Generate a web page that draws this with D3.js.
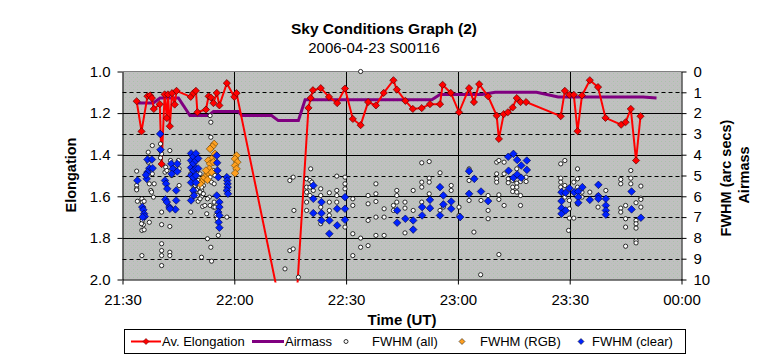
<!DOCTYPE html>
<html><head><meta charset="utf-8">
<script src="https://cdn.jsdelivr.net/npm/d3@7"></script>
<style>body{margin:0;background:#fff}svg{display:block;font-family:"Liberation Sans",Arial,sans-serif}</style>
</head><body><svg id="c" width="764" height="360"></svg>
<script>
// ---------------- data ----------------
const chartTitle = "Sky Conditions Graph (2)";
const chartSubtitle = "2006-04-23 S00116";
const startUT = "2006-04-23T21:30:00Z";          // time origin, values below are minutes after it
const timeTickLabels = ["21:30","22:00","22:30","23:00","23:30","00:00"];
const elongTicks = [1.0,1.2,1.4,1.6,1.8,2.0];
const fwhmTicks = [0,1,2,3,4,5,6,7,8,9,10];
const seriesNames = ["Av. Elongation","Airmass","FWHM (all)","FWHM (RGB)","FWHM (clear)"];

// [minutes after 21:30, average elongation]
const avElongation = [[3.8,1.143],[5.1,1.288],[6.7,1.119],[7.4,1.115],[7.9,1.128],[8.4,1.18],[10.0,1.157],[10.5,1.445],[11.3,1.11],[11.9,1.224],[12.2,1.11],[12.7,1.263],[13.3,1.104],[14.0,1.159],[14.5,1.093],[18.3,1.122],[19.0,1.104],[19.7,1.093],[20.1,1.196],[22.4,1.183],[23.1,1.119],[23.7,1.125],[24.4,1.152],[25.3,1.103],[26.0,1.163],[28.0,1.056],[30.0,1.122],[30.6,1.104],[45.6,2.41],[49.9,1.175],[50.5,1.128],[51.1,1.09],[53.2,1.08],[55.4,1.122],[57.6,1.152],[59.7,1.082],[61.8,1.228],[63.9,1.258],[65.9,1.147],[68.0,1.163],[70.1,1.103],[72.7,1.042],[73.6,1.087],[75.9,1.141],[77.9,1.18],[80.3,1.176],[82.5,1.157],[85.2,1.157],[85.9,1.064],[88.1,1.103],[90.3,1.196],[93.0,1.08],[94.3,1.147],[95.7,1.061],[98.1,1.119],[100.4,1.212],[101.0,1.324],[102.3,1.205],[103.4,1.196],[104.7,1.173],[105.8,1.128],[106.8,1.147],[108.3,1.147],[117.6,1.215],[118.7,1.093],[119.9,1.112],[121.1,1.112],[122.1,1.287],[123.3,1.115],[125.4,1.042],[127.6,1.075],[129.6,1.223],[133.8,1.256],[135.0,1.244],[136.4,1.18],[137.8,1.428],[139.0,1.215]];

// [minutes after 21:30, airmass]
const airmass = [[3.8,1.51],[8.3,1.51],[10.1,1.27],[15.0,1.27],[18.1,2.12],[23.0,2.12],[24.4,1.92],[31.1,1.92],[32.0,2.12],[40.0,2.12],[41.8,2.36],[47.2,2.36],[49.0,1.36],[83.0,1.36],[85.2,1.1],[96.5,1.1],[100.0,1.0],[111.1,1.0],[116.9,1.23],[139.7,1.23],[143.3,1.27]];

// [minutes after 21:30, FWHM arc secs]
const fwhmAll = [[3.8,4.79],[3.8,5.48],[3.8,5.64],[3.8,5.69],[4.0,6.24],[5.2,6.12],[5.3,6.28],[5.8,6.24],[5.3,7.16],[5.6,7.37],[5.2,7.64],[5.8,7.61],[5.1,7.32],[5.2,8.85],
[8.0,3.56],[6.9,3.88],[6.9,4.36],[8.0,4.92],[8.5,5.4],[7.2,5.4],[7.6,5.72],[7.8,5.8],[8.3,6.04],[7.2,7.25],
[10.2,3.48],[10.2,3.8],[10.5,3.96],[10.2,4.15],[11.6,4.6],[11.4,4.84],[11.9,4.76],[10.5,6.76],[10.5,7.36],[10.5,8.28],[10.5,8.61],[10.5,8.85],[10.5,9.33],
[12.7,3.8],[12.9,4.28],[13.8,4.68],[13.2,5.0],[12.7,7.45],[12.7,8.69],[12.7,8.85],[15.0,4.28],[15.2,4.68],[15.2,5.48],
[18.3,4.92],[18.6,5.32],[18.3,6.76],[18.6,6.04],[19.0,5.24],[19.2,5.56],[19.0,5.8],[20.1,5.96],[20.3,6.24],[21.2,5.72],[21.2,6.01],[21.7,5.48],[21.5,6.49],[20.8,4.92],[21.2,5.85],[19.5,5.48],[19.9,5.69],[20.6,5.56],[20.8,5.8],[21.2,5.56],[21.7,5.88],[20.8,6.12],[20.3,5.24],
[23.5,5.08],[23.9,5.32],[24.6,5.4],[24.4,4.76],[24.8,5.0],[23.7,3.16],[23.5,2.12],[23.7,2.44],[23.3,6.04],[23.5,6.44],[22.8,8.04],[23.7,8.45],[23.9,9.12],[21.2,8.93],[28.0,7.0],[24.4,6.52],
[22.1,6.44],[22.6,6.84],[22.8,6.12],[24.6,6.28],[24.8,6.52],[25.1,6.92],[25.4,7.08],[25.7,7.88],
[43.6,9.49],[44.9,8.61],[45.8,8.53],[46.0,6.68],[44.9,5.24],[45.8,5.08],[47.2,9.89],
[49.4,5.16],[49.4,5.56],[49.4,5.8],[49.4,6.28],[49.4,6.68],[50.3,5.24],[50.3,5.56],[50.3,5.96],[50.5,4.68],[50.8,5.32],[51.2,5.72],
[53.2,5.64],[53.2,5.96],[53.2,6.52],[53.2,7.32],[55.5,5.83],[55.5,6.28],[55.5,6.68],[55.5,6.92],
[57.5,5.03],[57.5,5.72],[57.5,5.96],[57.5,6.28],[59.7,5.08],[59.7,5.4],[59.7,5.64],[59.7,7.48],
[61.8,6.12],[61.8,6.44],[61.8,7.8],[61.8,8.85],[63.9,8.01],[63.9,8.45],[63.9,0.0],
[65.9,5.96],[65.9,6.36],[65.9,7.16],[65.9,8.37],[68.0,5.4],[68.0,5.88],[68.0,6.25],[68.0,7.0],[68.0,7.88],
[70.2,6.6],[70.2,7.0],[70.2,7.88],[72.7,6.44],[72.7,6.68],[73.6,5.72],[73.6,5.96],[73.6,6.28],
[75.8,6.28],[75.8,6.57],[75.8,7.76],[78.0,5.72],[78.0,6.68],
[80.3,4.39],[80.3,5.32],[80.3,5.56],[80.3,6.28],[82.3,4.33],[82.3,5.13],[82.3,5.32],[82.3,5.88],
[85.2,4.87],[85.2,6.68],[86.1,6.52],[88.2,5.48],[88.2,5.72],[90.3,6.52],[90.3,6.92],
[93.0,4.68],[93.0,5.24],[93.0,6.2],[94.3,7.72],[96.1,9.77],
[96.2,6.2],[98.1,6.68],[98.1,7.08],[98.1,5.96],[100.4,4.36],[100.4,4.92],[100.4,5.16],[100.4,5.32],[101.0,4.28],[101.0,5.93],[101.0,6.15],[101.0,8.8],[102.4,4.36],[102.4,4.92],[102.4,6.44],[103.5,5.16],[103.5,5.35],[104.7,5.24],[104.7,5.56],[104.7,5.77],[105.8,4.68],[105.8,5.37],[105.8,5.56],[105.8,5.8],[106.8,5.29],[106.8,5.96],[106.8,6.44],[108.3,5.08],[108.3,5.29],
[117.6,4.44],[118.7,4.28],[117.6,5.13],[117.6,5.32],[117.6,5.56],[118.7,5.48],[118.7,6.04],[119.9,6.2],[119.9,6.6],[119.9,7.05],[119.7,7.64],[121.1,5.32],[121.1,5.8],[121.1,7.05],[122.1,4.68],[122.1,5.16],[122.1,5.56],[122.1,6.36],[123.3,5.8],[123.3,6.04],[125.4,5.8],[127.6,5.96],[127.6,6.52],[129.7,5.72],
[133.7,5.19],[133.7,5.4],[133.7,6.57],[133.7,6.76],[135.0,6.44],[135.0,7.08],[135.0,7.48],[135.0,8.4],[136.4,4.76],[136.4,5.13],[136.4,5.4],[137.8,6.31],[137.8,7.16],[137.8,7.32],[137.8,7.53],[137.8,8.13],[137.8,8.24],[139.1,5.51],[139.1,6.09],[139.1,6.15],[139.1,6.52]];

const fwhmRGB = [[24.6,3.48],[24.1,3.61],[23.5,3.72],[24.8,3.96],[23.9,4.2],[23.0,4.28],[23.5,4.44],[24.4,4.36],[22.8,4.89],[22.1,5.08],[21.7,5.16],[21.2,5.32],[20.8,5.4],[22.8,5.21],[23.3,4.68],[23.9,4.84],[22.4,4.76],[30.6,4.04],[30.2,4.2],[30.8,4.36],[30.2,4.52],[30.6,4.68],[30.2,4.89]];

const fwhmClear = [[4.0,5.24],[5.3,6.52],[5.6,6.65],[5.8,6.84],[6.0,6.97],[5.4,7.0],
[6.7,4.23],[7.9,4.23],[7.2,4.65],[6.7,4.84],[6.5,5.16],[6.3,4.97],[8.1,4.65],
[10.1,3.0],[10.2,3.76],[11.4,5.24],[11.7,5.4],[12.0,5.64],[11.5,6.15],[11.9,6.28],[12.6,6.52],
[13.1,4.44],[13.5,4.68],[13.2,4.92],[14.7,4.44],[14.7,4.81],[14.4,5.72],[14.4,6.2],[14.2,6.63],[12.7,6.6],
[18.4,3.94],[18.4,4.28],[18.4,4.62],[18.4,5.0],[18.4,5.34],[18.4,6.2],[19.0,4.09],[19.0,4.42],[19.0,4.76],[19.0,5.1],[19.0,5.72],[19.7,3.94],[19.7,4.28],[19.7,4.66],[19.7,5.0],[19.7,5.34],[20.3,4.18],[20.3,4.66],[19.2,5.96],
[25.3,4.04],[25.4,4.39],[25.5,4.76],[25.7,5.08],[25.3,5.96],[26.0,6.28],[26.0,6.52],[25.7,6.76],[26.0,6.92],[25.8,7.25],[26.0,7.51],
[28.0,5.08],[28.1,5.24],[28.2,5.4],[28.2,5.56],[28.0,5.72],[28.3,5.88],
[51.2,5.48],[51.2,6.12],[51.2,6.81],[53.4,6.28],[53.4,6.81],[53.4,7.16],[55.5,7.16],[55.5,7.8],[57.6,6.6],[57.6,7.4],[59.7,6.04],[59.7,6.6],[59.7,7.13],
[73.7,6.68],[73.7,7.27],[75.9,7.08],[78.0,7.16],[78.0,7.6],[80.4,6.52],[80.4,6.92],[82.5,6.17],[82.5,6.57],[85.2,5.56],[85.2,6.92],[86.1,5.96],[86.1,6.39],[88.2,6.25],[88.2,6.6],[90.6,7.0],
[93.0,4.79],[94.4,5.16],[93.0,5.88],[96.2,5.77],[98.1,6.23],
[103.5,4.1],[104.9,3.96],[105.9,4.25],[107.0,4.52],[108.5,4.28],[108.5,4.73],[103.6,4.77],[104.9,5.11],[105.9,4.95],[107.0,5.11],
[117.8,5.8],[117.8,6.23],[117.8,6.57],[117.8,6.84],[118.9,5.83],[118.9,6.68],[119.9,5.61],[121.2,5.8],[122.3,5.77],[122.3,6.04],[122.3,6.31],[123.4,5.56],[125.4,6.17],[127.7,5.45],[127.7,5.99],[127.7,6.12],[129.7,6.12],[129.7,6.44],[129.7,6.68],[129.7,6.88],[136.6,5.77],[136.6,6.63],[139.1,7.03]];

// ---------------- chart ----------------
const svg = d3.select("#c");
const L = 122.5, R = 681.5, T = 71.5, B = 279.5;
const t0 = new Date(startUT);
const toDate = m => new Date(t0.getTime() + m * 60000);
const timeTicks = timeTickLabels.map((d, i) => toDate(i * 30));

const x = d3.scaleUtc().domain([toDate(0), toDate(150)]).range([L, R]);
const yE = d3.scaleLinear().domain([1, 2]).range([T, B]);
const yF = d3.scaleLinear().domain([0, 10]).range([T, B]);

const defs = svg.append("defs");
const pat = defs.append("pattern").attr("id", "bg").attr("width", 4).attr("height", 4).attr("patternUnits", "userSpaceOnUse");
pat.append("rect").attr("width", 4).attr("height", 4).attr("fill", "#c0c0c0");
pat.append("rect").attr("x", 1).attr("y", 1).attr("width", 1).attr("height", 1).attr("fill", "#a9c3a9");
pat.append("rect").attr("x", 3).attr("y", 3).attr("width", 1).attr("height", 1).attr("fill", "#b4c4b4");
defs.append("clipPath").attr("id", "clip").append("rect").attr("x", L).attr("y", T).attr("width", R - L).attr("height", B - T + 3);

svg.append("rect").attr("x", L).attr("y", T).attr("width", R - L).attr("height", B - T).attr("fill", "url(#bg)");

// gridlines
const gridVals = d3.range(1, 10);
svg.append("g").selectAll("line").data(gridVals).join("line")
  .attr("x1", L).attr("x2", R)
  .attr("y1", d => Math.round(yF(d)) + 0.5).attr("y2", d => Math.round(yF(d)) + 0.5)
  .attr("stroke", "#000").attr("stroke-width", 1)
  .attr("stroke-dasharray", d => d % 2 ? "4,3" : null);
svg.append("g").selectAll("line").data(timeTicks.slice(1, -1)).join("line")
  .attr("y1", T).attr("y2", B)
  .attr("x1", d => Math.round(x(d)) + 0.5).attr("x2", d => Math.round(x(d)) + 0.5)
  .attr("stroke", "#000");

// frame
svg.append("line").attr("x1", L).attr("x2", R).attr("y1", T).attr("y2", T).attr("stroke", "#808080");

// axes
const fmtT = d3.utcFormat("%H:%M");
const axB = svg.append("g").attr("transform", `translate(0,${B})`)
  .call(d3.axisBottom(x).tickValues(timeTicks).tickFormat((d, i) => timeTickLabels[i]).tickSize(5).tickSizeOuter(0).tickPadding(10));
const axL = svg.append("g").attr("transform", `translate(${L},0)`)
  .call(d3.axisLeft(yE).tickValues(elongTicks).tickFormat(d3.format(".1f")).tickSize(5).tickSizeOuter(0).tickPadding(7));
const axR = svg.append("g").attr("transform", `translate(${R},0)`)
  .call(d3.axisRight(yF).tickValues(fwhmTicks).tickFormat(d3.format("d")).tickSize(5).tickSizeOuter(0).tickPadding(7));
[axB, axL, axR].forEach(a => {
  a.select(".domain").attr("stroke", "#000");
  a.selectAll(".tick line").attr("stroke", "#000");
  a.selectAll("text").attr("font-size", 15).attr("fill", "#000").attr("font-family", "Liberation Sans, Arial, sans-serif");
});

// series
const diamond = r => `M0,${-r}L${r},0L0,${r}L${-r},0Z`;
svg.append("path").datum(airmass)
  .attr("d", d3.line().x(d => x(toDate(d[0]))).y(d => yF(d[1])))
  .attr("fill", "none").attr("stroke", "#800080").attr("stroke-width", 3);

const gE = svg.append("g").attr("clip-path", "url(#clip)");
gE.append("path").datum(avElongation)
  .attr("d", d3.line().x(d => x(toDate(d[0]))).y(d => yE(d[1])))
  .attr("fill", "none").attr("stroke", "#ff0000").attr("stroke-width", 2);
gE.selectAll("path.m").data(avElongation).join("path").attr("class", "m")
  .attr("transform", d => `translate(${x(toDate(d[0]))},${yE(d[1])})`)
  .attr("d", diamond(3.6)).attr("fill", "#ff0000").attr("stroke", "#600000").attr("stroke-width", 0.7);

svg.append("g").selectAll("circle").data(fwhmAll).join("circle")
  .attr("cx", d => x(toDate(d[0]))).attr("cy", d => yF(d[1])).attr("r", 2.1)
  .attr("fill", "#fff").attr("stroke", "#000").attr("stroke-width", 0.8);
svg.append("g").selectAll("path").data(fwhmRGB).join("path")
  .attr("transform", d => `translate(${x(toDate(d[0]))},${yF(d[1])})`)
  .attr("d", diamond(3.8)).attr("fill", "#ffa020").attr("stroke", "#5a3a00").attr("stroke-width", 0.6);
svg.append("g").selectAll("path").data(fwhmClear).join("path")
  .attr("transform", d => `translate(${x(toDate(d[0]))},${yF(d[1])})`)
  .attr("d", diamond(3.8)).attr("fill", "#0022ff").attr("stroke", "#000040").attr("stroke-width", 0.6);

// titles
svg.append("text").attr("x", 384).attr("y", 34).attr("text-anchor", "middle")
  .attr("font-size", 15.5).attr("font-weight", "bold").text(chartTitle);
svg.append("text").attr("x", 374).attr("y", 53).attr("text-anchor", "middle")
  .attr("font-size", 15).text(chartSubtitle);
svg.append("text").attr("transform", "translate(76,175) rotate(-90)").attr("text-anchor", "middle")
  .attr("font-size", 14.5).attr("font-weight", "bold").text("Elongation");
svg.append("text").attr("x", (L + R) / 2).attr("y", 325).attr("text-anchor", "middle")
  .attr("font-size", 15).attr("font-weight", "bold").text("Time (UT)");
svg.append("text").attr("transform", "translate(731,178) rotate(-90)").attr("text-anchor", "middle")
  .attr("font-size", 14.5).attr("font-weight", "bold").text("FWHM (arc secs)");
svg.append("text").attr("transform", "translate(749,175) rotate(-90)").attr("text-anchor", "middle")
  .attr("font-size", 14.5).attr("font-weight", "bold").text("Airmass");

// legend
const lg = svg.append("g");
lg.append("rect").attr("x", 124.5).attr("y", 329.5).attr("width", 561).attr("height", 24)
  .attr("fill", "#fff").attr("stroke", "#000");
const ly = 341.5;
const items = [
  {name: seriesNames[0], x: 131, type: "eline"},
  {name: seriesNames[1], x: 252, type: "aline"},
  {name: seriesNames[2], x: 346, type: "circ"},
  {name: seriesNames[3], x: 462, type: "rgb"},
  {name: seriesNames[4], x: 581, type: "clr"}
];
items.forEach(it => {
  const g = lg.append("g");
  let tx;
  if (it.type === "eline") {
    g.append("line").attr("x1", it.x).attr("x2", it.x + 30).attr("y1", ly).attr("y2", ly).attr("stroke", "#ff0000").attr("stroke-width", 2);
    g.append("path").attr("transform", `translate(${it.x + 15},${ly})`).attr("d", diamond(3)).attr("fill", "#ff0000").attr("stroke", "#600000").attr("stroke-width", 0.6);
    tx = it.x + 31;
  } else if (it.type === "aline") {
    g.append("line").attr("x1", it.x).attr("x2", it.x + 32).attr("y1", ly).attr("y2", ly).attr("stroke", "#800080").attr("stroke-width", 3);
    tx = it.x + 33;
  } else if (it.type === "circ") {
    g.append("circle").attr("cx", it.x).attr("cy", ly).attr("r", 2).attr("fill", "#fff").attr("stroke", "#000").attr("stroke-width", 0.8);
    tx = it.x + 26;
  } else {
    g.append("path").attr("transform", `translate(${it.x},${ly})`).attr("d", diamond(3))
      .attr("fill", it.type === "rgb" ? "#ffa020" : "#0022ff").attr("stroke", "#000").attr("stroke-width", 0.5);
    tx = it.x + (it.type === "rgb" ? 18 : 11);
  }
  g.append("text").attr("x", tx).attr("y", ly + 4.5).attr("font-size", 13).text(it.name);
});
</script></body></html>
